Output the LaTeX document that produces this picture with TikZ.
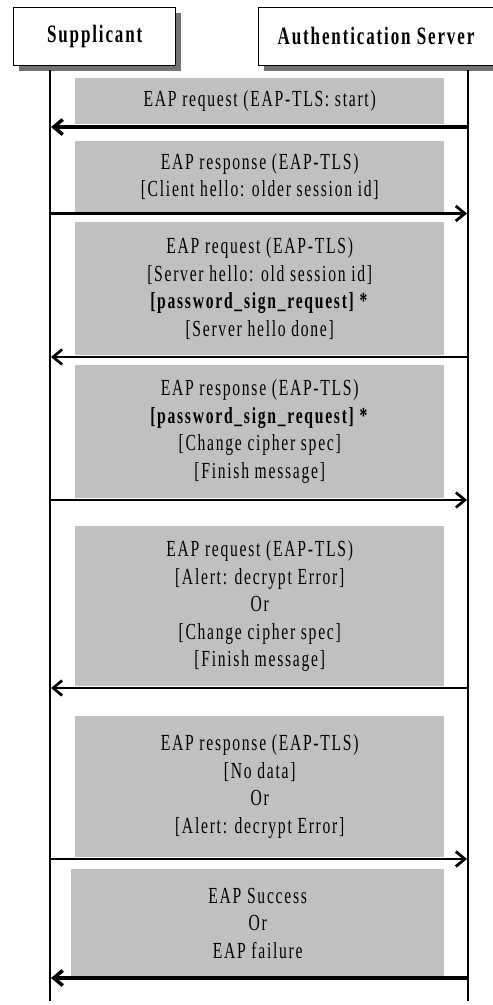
\documentclass[tikz,border=0pt]{standalone}
\usepackage{fontspec}
\setmainfont[FakeStretch=0.68,LetterSpace=7.5]{Liberation Serif}
\usetikzlibrary{arrows.meta,shadows}
\definecolor{msggrey}{RGB}{192,192,192}
\tikzset{
 eap actor/.style={draw=black,line width=1.4pt,fill=white,inner sep=0pt,
                   anchor=north west,font=\bfseries\fontsize{25}{28}\selectfont,
                   drop shadow={shadow xshift=5pt,shadow yshift=-5pt,
                                fill=black!55,opacity=1}},
 eap life/.style={line width=2pt},
 eap msg/.style={fill=msggrey,anchor=north west,inner sep=0pt,align=center,
                 font=\fontsize{23}{27.5}\selectfont},
 eap arrow/.style={-{Straight Barb[length=9pt,width=15pt]}}
}

\begin{document}
\begin{tikzpicture}[x=1pt,y=-1pt]
 \clip (0,0) rectangle (493,1005);
 % actors
 \node[eap actor,minimum width=162pt,minimum height=58pt] (sup) at (13,7) {Supplicant};
 \node[eap actor,minimum width=240pt,minimum height=58pt] (auth) at (258,7) {};
 \node[font=\bfseries\fontsize{25}{28}\selectfont] (authtxt) at (376,36) {Authentication Server};
 % life lines
 \coordinate (supTop) at (50,70);  \coordinate (supBot) at (50,1001);
 \coordinate (authTop) at (468,70); \coordinate (authBot) at (468,1001);
 \draw[eap life] (supTop) -- (supBot);
 \draw[eap life] (authTop) -- (authBot);
 % messages
 \node[eap msg,minimum width=369pt,minimum height=46pt] (m1) at (75,78)
   {EAP request (EAP-TLS: start)};
 \node[eap msg,minimum width=369pt,minimum height=71pt] (m2) at (75,141)
   {EAP response (EAP-TLS)\\ {[}Client hello: older session id]};
 \node[eap msg,minimum width=369pt,minimum height=133pt] (m3) at (75,222)
   {EAP request (EAP-TLS)\\ {[}Server hello: old session id]\\
    \textbf{[password\_sign\_request] *}\\ {[}Server hello done]};
 \node[eap msg,minimum width=369pt,minimum height=133pt] (m4) at (75,365)
   {EAP response (EAP-TLS)\\ \textbf{[password\_sign\_request] *}\\
    {[}Change cipher spec]\\ {[}Finish message]};
 \node[eap msg,minimum width=369pt,minimum height=160pt] (m5) at (75,526)
   {EAP request (EAP-TLS)\\ {[}Alert: decrypt Error]\\ Or\\
    {[}Change cipher spec]\\ {[}Finish message]};
 \node[eap msg,minimum width=369pt,minimum height=141pt] (m6) at (75,716)
   {EAP response (EAP-TLS)\\ {[}No data]\\ Or\\ {[}Alert: decrypt Error]};
 \node[eap msg,minimum width=373pt,minimum height=108pt] (m7) at (71,869)
   {EAP Success\\ Or\\ EAP failure};
 % arrows, server to supplicant
 \foreach \n/\y/\lw in {1/127/3.5,3/357/2.7,5/688/2.7,7/978/3.5}{
   \coordinate (s\n) at (51,\y);
   \coordinate (a\n) at (469,\y);
   \draw[eap arrow,line width=\lw pt] (a\n) -- (s\n);
 }
 % arrows, supplicant to server
 \foreach \n/\y/\lw in {2/213.5/2.8,4/500/2.7,6/859/2.8}{
   \coordinate (s\n) at (49,\y);
   \coordinate (a\n) at (467,\y);
   \draw[eap arrow,line width=\lw pt] (s\n) -- (a\n);
 }
\end{tikzpicture}
\end{document}
